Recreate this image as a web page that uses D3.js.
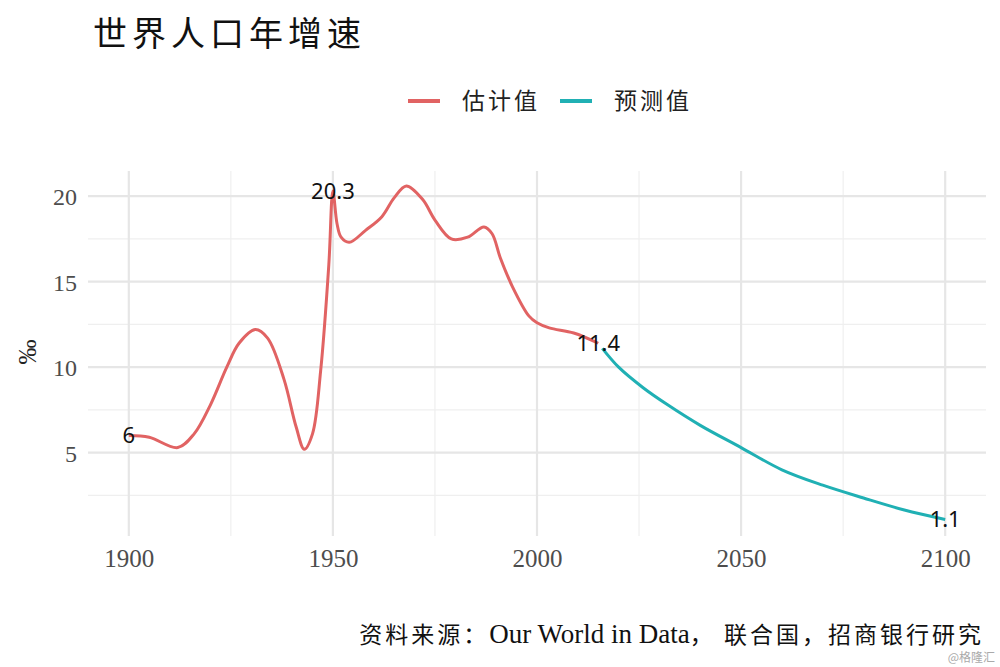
<!DOCTYPE html>
<html><head><meta charset="utf-8">
<script src="https://cdn.jsdelivr.net/npm/d3@7/dist/d3.min.js"></script>
<style>body{margin:0;background:#fff;}svg{display:block;}</style>
</head><body>
<svg id="c" width="1000" height="667"></svg>
<script>
const estYears = [1900,1905,1912,1916,1920,1924,1927,1931,1934,1938,1941,1943,1945,1947,1949,1950,1951,1952,1954,1958,1962,1965,1968,1972,1975,1979,1983,1987,1989,1991,1994,1998,2000,2003,2009,2015];
const estValues = [6.0,5.9,5.3,6.1,7.8,10.0,11.4,12.2,11.7,9.3,6.5,5.2,6.1,9.8,16.0,20.3,18.4,17.6,17.3,18.0,18.8,19.9,20.6,19.8,18.6,17.5,17.6,18.2,17.8,16.4,14.7,13.0,12.6,12.3,12.0,11.4];
const fcYears = [2016,2020,2026,2032,2040,2050,2060,2070,2080,2090,2100];
const fcValues = [11.1,10.0,8.8,7.8,6.6,5.3,4.0,3.1,2.35,1.65,1.1];
const labelYears = [1900,1950,2015,2100];
const labelValues = [6,20.3,11.4,1.1];
const labelTexts = ["6","20.3","11.4","1.1"];
const xTicks = [1900,1950,2000,2050,2100];
const xMinor = [1925,1975,2025,2075];
const yTicks = [5,10,15,20];
const yMinor = [2.5,7.5,12.5,17.5];
const seriesNames = ["估计值","预测值"];
const colors = ["#e16363","#20b0b4"];

const svg = d3.select("#c");
const x = d3.scaleLinear().domain([1890,2110]).range([88,986]);
const y = d3.scaleLinear().domain([0.13,21.47]).range([536,171]);

const grid = svg.append("g");
grid.selectAll(".ym").data(yMinor).join("line")
  .attr("x1",88).attr("x2",986).attr("y1",d=>y(d)).attr("y2",d=>y(d))
  .attr("stroke","#efefef").attr("stroke-width",1.2);
grid.selectAll(".xm").data(xMinor).join("line")
  .attr("y1",171).attr("y2",536).attr("x1",d=>x(d)).attr("x2",d=>x(d))
  .attr("stroke","#efefef").attr("stroke-width",1.2);
grid.selectAll(".yM").data(yTicks).join("line")
  .attr("x1",88).attr("x2",986).attr("y1",d=>y(d)).attr("y2",d=>y(d))
  .attr("stroke","#e6e6e6").attr("stroke-width",2.2);
grid.selectAll(".xM").data(xTicks).join("line")
  .attr("y1",171).attr("y2",536).attr("x1",d=>x(d)).attr("x2",d=>x(d))
  .attr("stroke","#e6e6e6").attr("stroke-width",2.2);

// axes
const xAxis = d3.axisBottom(x).tickValues(xTicks).tickSize(0).tickFormat(d3.format("d"));
const gx = svg.append("g").attr("transform","translate(0,545)").call(xAxis);
gx.select(".domain").remove();
gx.selectAll("text").attr("font-family","'Liberation Serif',serif").attr("font-size",25).attr("fill","#4d4d4d").attr("dy","0.75em");
const yAxis = d3.axisLeft(y).tickValues(yTicks).tickSize(0);
const gy = svg.append("g").attr("transform","translate(77,0)").call(yAxis);
gy.select(".domain").remove();
gy.selectAll("text").attr("font-family","'Liberation Serif',serif").attr("font-size",24).attr("fill","#4d4d4d").attr("dy","0.35em").attr("x",0);

svg.append("text").attr("transform","translate(36,352) rotate(-90)")
  .attr("text-anchor","middle").attr("font-family","'Liberation Serif',serif")
  .attr("font-size",25).attr("fill","#222").text("‰");

const line = d3.line().x(d=>x(d[0])).y(d=>y(d[1])).curve(d3.curveCatmullRom.alpha(0.5));
svg.append("path").datum(estYears.map((d,i)=>[d,estValues[i]]))
  .attr("d",line).attr("fill","none").attr("stroke",colors[0]).attr("stroke-width",3);
svg.append("path").datum(fcYears.map((d,i)=>[d,fcValues[i]]))
  .attr("d",line).attr("fill","none").attr("stroke",colors[1]).attr("stroke-width",3);

svg.selectAll(".lbl").data(labelYears).join("text")
  .attr("x",(d,i)=>x(d)).attr("y",(d,i)=>y(labelValues[i]))
  .attr("dy","0.35em").attr("text-anchor","middle")
  .attr("font-family","'Noto Sans','DejaVu Sans',sans-serif").attr("font-size",22).attr("fill","#111")
  .text((d,i)=>labelTexts[i]);

// title
svg.append("text").attr("x",93).attr("y",46).attr("font-family","'Noto Sans CJK SC'")
  .attr("font-size",34).attr("fill","#111").attr("letter-spacing",5).text("世界人口年增速");

// legend
const lx = [408,560];
const leg = svg.append("g");
seriesNames.forEach((n,i)=>{
  leg.append("line").attr("x1",lx[i]).attr("x2",lx[i]+32).attr("y1",101).attr("y2",101)
    .attr("stroke",colors[i]).attr("stroke-width",4);
  leg.append("text").attr("x",lx[i]+54).attr("y",101).attr("dy","0.36em")
    .attr("font-family","'Noto Sans CJK SC'").attr("font-size",23).attr("letter-spacing",3)
    .attr("fill","#222").text(n);
});

const src = svg.append("text").attr("x",984).attr("y",643).attr("text-anchor","end")
  .attr("font-family","'Liberation Serif','Noto Sans CJK SC',serif").attr("fill","#111");
src.append("tspan").attr("font-family","'Noto Sans CJK SC'").attr("font-size",23).attr("letter-spacing",3).text("资料来源：");
src.append("tspan").attr("font-size",27).text("Our World in Data");
src.append("tspan").attr("font-family","'Noto Sans CJK SC'").attr("font-size",23).attr("letter-spacing",3).text("， 联合国，招商银行研究");
svg.append("text").attr("x",995).attr("y",662).attr("text-anchor","end")
  .attr("font-family","'Noto Sans CJK SC'").attr("font-size",12).attr("fill","#aaa").text("@格隆汇");
</script>
</body></html>
